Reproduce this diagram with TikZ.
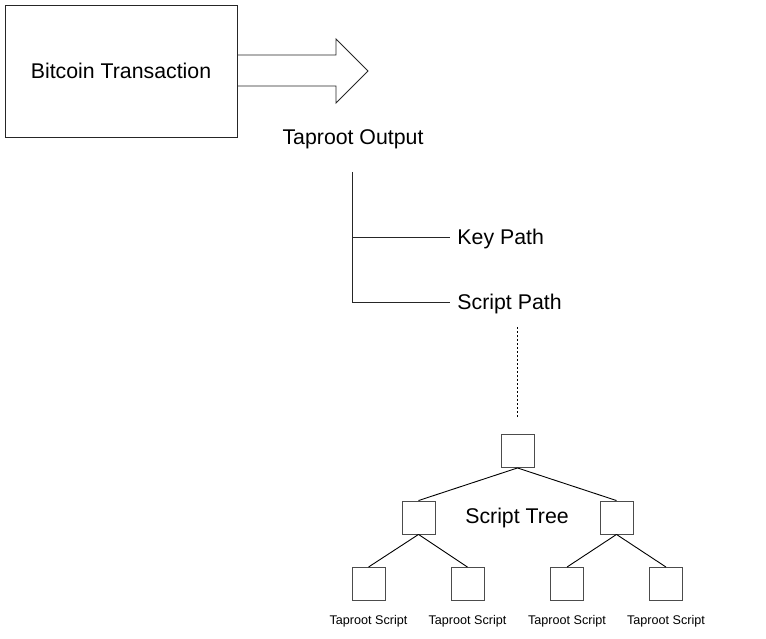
\documentclass[tikz,border=0pt]{standalone}
\usepackage{fontspec}
\setmainfont{Liberation Sans}
\usetikzlibrary{positioning}

\begin{document}
\begin{tikzpicture}[
  x=1pt, y=-1pt,
  line width=0.9pt,
  every node/.style={font=\fontsize{21.3}{25}\selectfont},
  bigbox/.style={draw=black!85, minimum width=232pt, minimum height=132pt},
  leaf/.style={draw=black!70, minimum size=33pt, inner sep=0pt},
  lab/.style={font=\fontsize{12.6}{15}\selectfont, inner sep=0pt}
]
  \useasboundingbox (0,0) rectangle (766,639);

  \node[bigbox] (tx) at (121,71) {Bitcoin Transaction};
  \draw[draw=black!85] (tx.east |- 0,55) -- (336,55) -- (336,39) -- (368,71)
    -- (336,103) -- (336,86) -- (tx.east |- 0,86);

  \node (out) at (353,139) {Taproot Output};
  \coordinate (trunk) at (352,172);
  \node[anchor=west, inner sep=0pt] (key) at (457,239) {Key Path};
  \node[anchor=west, inner sep=0pt] (spath) at (457,304) {Script Path};

  \draw[draw=black!85] (trunk) |- ([xshift=-7pt,yshift=2pt]spath.west);
  \draw[draw=black!85] ([yshift=2pt]trunk |- key.west) -- ([xshift=-7pt,yshift=2pt]key.west);

  % script tree
  \node[leaf] (root) at (517.5,451) {};
  \node[leaf] (n1) at (418.5,517.5) {};
  \node[leaf] (n2) at (616.5,517.5) {};
  \node[leaf] (l1) at (368.5,584) {};
  \node[leaf] (l2) at (467.5,584) {};
  \node[leaf] (l3) at (567,584) {};
  \node[leaf] (l4) at (666,584) {};
  \node (tree) at (517,518) {Script Tree};

  \coordinate (dots) at (517.5,327);
  \draw[dash pattern=on 2pt off 2pt] (dots) -- ([yshift=16pt]root.north);

  \draw (root.south) -- (n1.north);
  \draw (root.south) -- (n2.north);
  \draw (n1.south) -- (l1.north);
  \draw (n1.south) -- (l2.north);
  \draw (n2.south) -- (l3.north);
  \draw (n2.south) -- (l4.north);

  \foreach \l in {l1,l2,l3,l4}
    \node[lab, below=14pt of \l] {Taproot Script};
\end{tikzpicture}
\end{document}
